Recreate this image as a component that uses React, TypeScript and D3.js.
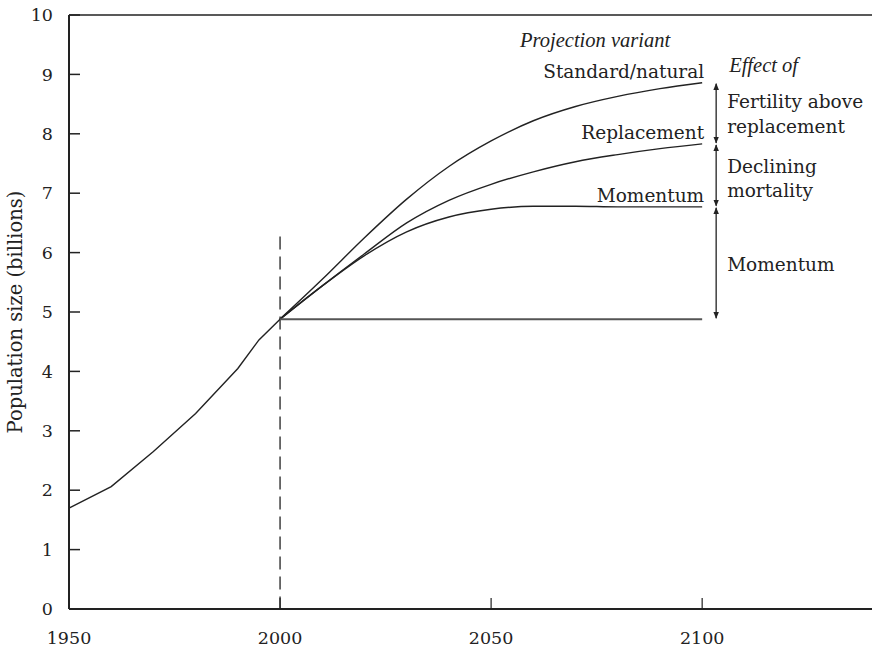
import React from 'react';
import * as d3 from 'd3';

// historical series, 1950-2000
const histYears = [1950, 1960, 1970, 1980, 1990, 1995, 2000];
const histPop = [1.7, 2.06, 2.65, 3.29, 4.05, 4.53, 4.88];

// projections, 2000-2100
const projYears = [2000, 2010, 2020, 2030, 2040, 2050, 2060, 2070, 2080, 2090, 2100];
const standardPop = [4.88, 5.55, 6.25, 6.9, 7.45, 7.88, 8.22, 8.46, 8.63, 8.76, 8.86];
const replacementPop = [4.88, 5.44, 5.98, 6.5, 6.88, 7.15, 7.36, 7.53, 7.65, 7.75, 7.83];
const momentumPop = [4.88, 5.44, 5.95, 6.35, 6.6, 6.73, 6.78, 6.78, 6.77, 6.77, 6.77];
const constantPop = 4.88;

const xTicks = [1950, 2000, 2050, 2100];
const yTicks = [0, 1, 2, 3, 4, 5, 6, 7, 8, 9, 10];

const font = "'DejaVu Serif', serif";
const italicFont = "'Liberation Serif', serif";
const ink = '#222';

const App = () => {
	const svgWidth = 872;
	const svgHeight = 648;

	const xScale = d3.scaleLinear().domain([1950, 2140]).range([69, 871]);
	const yScale = d3.scaleLinear().domain([0, 10]).range([609, 15]);

	const straight = d3
		.line<[number, number]>()
		.x((d) => xScale(d[0]))
		.y((d) => yScale(d[1]));
	const smooth = d3
		.line<[number, number]>()
		.x((d) => xScale(d[0]))
		.y((d) => yScale(d[1]))
		.curve(d3.curveMonotoneX);

	const histPath = straight(histYears.map((y, i) => [y, histPop[i]]));
	const proj = (vals) => smooth(projYears.map((y, i) => [y, vals[i]]));

	const endYear = 2100;
	const arrowX = xScale(endYear) + 14;
	const labelX = xScale(endYear) + 25;
	const ends = [
		standardPop[standardPop.length - 1],
		replacementPop[replacementPop.length - 1],
		momentumPop[momentumPop.length - 1],
		constantPop,
	];

	return (
		<svg
			width={svgWidth}
			height={svgHeight}
			style={{ position: 'absolute', left: 0, top: 0, background: '#fff' }}
		>
			<defs>
				<marker
					id='ah'
					viewBox='0 0 10 10'
					refX='9'
					refY='5'
					markerWidth='7'
					markerHeight='7'
					orient='auto-start-reverse'
					markerUnits='userSpaceOnUse'
				>
					<path d='M0,1 L10,5 L0,9 z' fill={ink} />
				</marker>
			</defs>

			{/* --- FRAME / AXES --- */}
			<line x1={69} x2={872} y1={yScale(10)} y2={yScale(10)} stroke={ink} strokeWidth={1.5} />
			<line x1={69} x2={872} y1={yScale(0)} y2={yScale(0)} stroke={ink} strokeWidth={2} />
			<line x1={69} x2={69} y1={yScale(10)} y2={yScale(0)} stroke={ink} strokeWidth={2} />

			{yTicks.map((v) => (
				<g key={'y' + v} transform={`translate(69, ${yScale(v)})`}>
					<line x2={11} stroke={ink} strokeWidth={1.5} />
					<text x={-16} dy='0.35em' textAnchor='end' fontFamily={font} fontSize={17.5} fill={ink}>
						{v}
					</text>
				</g>
			))}

			{xTicks.map((v) => (
				<g key={'x' + v} transform={`translate(${xScale(v)}, ${yScale(0)})`}>
					<line y2={-11} stroke={ink} strokeWidth={1.2} />
					<text y={35} textAnchor='middle' fontFamily={font} fontSize={17.5} fill={ink}>
						{v}
					</text>
				</g>
			))}

			<text
				transform={`translate(22, ${yScale(5)}) rotate(-90)`}
				textAnchor='middle'
				fontFamily={font}
				fontSize={19.5}
				fill={ink}
			>
				Population size (billions)
			</text>

			{/* --- DASHED 2000 LINE --- */}
			<line
				x1={xScale(2000)}
				x2={xScale(2000)}
				y1={yScale(6.27)}
				y2={yScale(0)}
				stroke={ink}
				strokeWidth={1.3}
				strokeDasharray='13,7'
			/>

			{/* --- SERIES --- */}
			<path d={histPath} fill='none' stroke={ink} strokeWidth={1.4} />
			<path d={proj(standardPop)} fill='none' stroke={ink} strokeWidth={1.4} />
			<path d={proj(replacementPop)} fill='none' stroke={ink} strokeWidth={1.4} />
			<path d={proj(momentumPop)} fill='none' stroke={ink} strokeWidth={1.4} />
			<line
				x1={xScale(2000)}
				x2={xScale(endYear)}
				y1={yScale(constantPop)}
				y2={yScale(constantPop)}
				stroke='#555'
				strokeWidth={2}
			/>

			{/* --- ARROWS --- */}
			{ends.slice(0, -1).map((v, i) => (
				<line
					key={'arr' + i}
					x1={arrowX}
					x2={arrowX}
					y1={yScale(v) + 1}
					y2={yScale(ends[i + 1]) - 1}
					stroke={ink}
					strokeWidth={1.3}
					markerStart='url(#ah)'
					markerEnd='url(#ah)'
				/>
			))}

			{/* --- LABELS --- */}
			<g fontFamily={italicFont} fontSize={20.5} fill={ink} fontStyle='italic'>
				<text x={xScale(endYear) - 32} y={47} textAnchor='end'>
					Projection variant
				</text>
				<text x={labelX + 2} y={72}>
					Effect of
				</text>
			</g>
			<g fontFamily={font} fontSize={18.5} fill={ink}>
				<text x={xScale(endYear) + 2} y={yScale(ends[0]) - 5} textAnchor='end'>
					Standard/natural
				</text>
				<text x={xScale(endYear) + 2} y={yScale(ends[1]) - 5} textAnchor='end'>
					Replacement
				</text>
				<text x={xScale(endYear) + 2} y={yScale(ends[2]) - 5} textAnchor='end'>
					Momentum
				</text>
				<text x={labelX} y={108}>Fertility above</text>
				<text x={labelX} y={133}>replacement</text>
				<text x={labelX} y={173}>Declining</text>
				<text x={labelX} y={197}>mortality</text>
				<text x={labelX} y={271}>Momentum</text>
			</g>
		</svg>
	);
};

export default App;
